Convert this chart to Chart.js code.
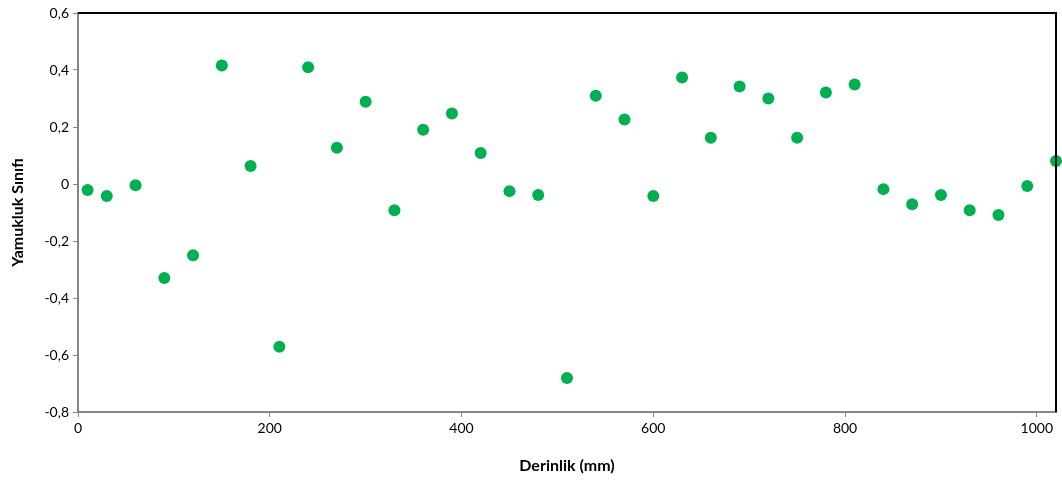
<!DOCTYPE html>
<html lang="tr">
<head>
<meta charset="UTF-8">
<title>Yamukluk Sınıfı</title>
<script src="https://cdn.jsdelivr.net/npm/chart.js"></script>
<style>
  html, body { margin: 0; padding: 0; background: #fff; }
  #wrap { width: 1062px; height: 480px; }
</style>
</head>
<body>
<div id="wrap"><canvas id="grafik"></canvas></div>
<script>
// derinlik (mm) ve yamukluk sinifi degerleri
const derinlik = [10, 30, 60, 90, 120, 150, 180, 210, 240, 270, 300, 330, 360, 390, 420, 450, 480, 510,
  540, 570, 600, 630, 660, 690, 720, 750, 780, 810, 840, 870, 900, 930, 960, 990, 1020];
const yamukluk = [-0.021, -0.042, -0.004, -0.33, -0.25, 0.416, 0.063, -0.571, 0.41, 0.127, 0.289, -0.092,
  0.19, 0.247, 0.109, -0.025, -0.039, -0.681, 0.31, 0.226, -0.042, 0.374, 0.162, 0.342, 0.3, 0.162,
  0.321, 0.349, -0.018, -0.071, -0.039, -0.092, -0.109, -0.007, 0.081];
const xTicks = [0, 200, 400, 600, 800, 1000];

const noktalar = derinlik.map((d, i) => ({ x: d, y: yamukluk[i] }));

// ust ve sag kenar cizgisi (siyah)
const cerceve = {
  id: 'cerceve',
  afterDatasetsDraw(chart) {
    const { ctx, chartArea: a } = chart;
    ctx.save();
    ctx.strokeStyle = '#000';
    ctx.lineWidth = 2;
    ctx.beginPath();
    ctx.moveTo(a.left, a.top);
    ctx.lineTo(a.right, a.top);
    ctx.lineTo(a.right, a.bottom);
    ctx.stroke();
    ctx.restore();
  }
};

const font = { family: 'Lato, "Open Sans", sans-serif', size: 14 };

new Chart(document.getElementById('grafik'), {
  type: 'scatter',
  data: {
    datasets: [{
      label: 'Yamukluk',
      data: noktalar,
      backgroundColor: '#00B050',
      borderWidth: 0,
      pointRadius: 6,
      pointHoverRadius: 6,
      clip: false
    }]
  },
  options: {
    responsive: true,
    maintainAspectRatio: false,
    animation: false,
    layout: { padding: { top: 13, right: 4, left: 0, bottom: 0 } },
    plugins: { legend: { display: false }, tooltip: { enabled: false } },
    scales: {
      x: {
        type: 'linear',
        min: 0,
        max: 1020,
        afterBuildTicks: (s) => { s.ticks = xTicks.map(v => ({ value: v })); },
        afterFit: (s) => { s.height = 68; },
        grid: { drawOnChartArea: false, drawTicks: true, tickLength: 5, color: '#868686' },
        border: { color: '#868686', width: 2 },
        ticks: { color: '#000', font: font, padding: 3, maxRotation: 0, callback: (v) => String(v) },
        title: {
          display: true, text: 'Derinlik (mm)', color: '#000',
          font: { family: font.family, size: 16, weight: 'bold' },
          padding: { top: 0, bottom: 5 }
        }
      },
      y: {
        min: -0.8,
        max: 0.6,
        afterFit: (s) => { s.width = 78; },
        grid: { drawOnChartArea: false, drawTicks: true, tickLength: 5, color: '#868686' },
        border: { color: '#868686', width: 2 },
        ticks: {
          stepSize: 0.2, color: '#000', font: font, padding: 4,
          callback: (v) => (Math.round(v * 10) / 10).toString().replace('.', ',')
        },
        title: {
          display: true, text: 'Yamukluk Sınıfı', color: '#000',
          font: { family: font.family, size: 16, weight: 'bold' },
          padding: { top: 8, bottom: 0 }
        }
      }
    }
  },
  plugins: [cerceve]
});
</script>
</body>
</html>
